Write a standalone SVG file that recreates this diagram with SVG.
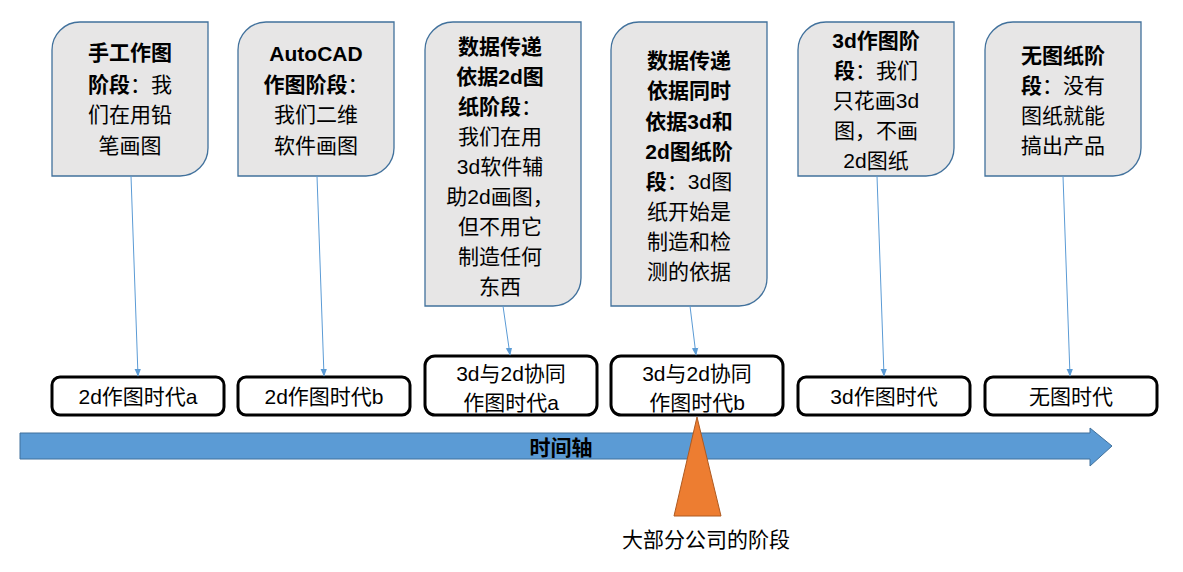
<svg xmlns="http://www.w3.org/2000/svg" width="1183" height="572" viewBox="0 0 1183 572">
<style>
.c{fill:#E7E6E6;stroke:#41719C;stroke-width:1.3}
.e{fill:#fff;stroke:#000;stroke-width:3}
text{font-family:"Liberation Sans","Noto Sans CJK SC",sans-serif;font-size:21px;fill:#000;text-anchor:middle;dominant-baseline:central}
.b{font-weight:bold}
.cn{stroke:#5B9BD5;stroke-width:1;fill:none;marker-end:url(#a)}
</style>
<defs><marker id="a" viewBox="0 0 10 10" refX="9" refY="5" markerWidth="8" markerHeight="8" orient="auto"><path d="M0,1 L10,5 L0,9z" fill="#5B9BD5"/></marker></defs>
<rect x="0" y="0" width="1183" height="572" fill="#fff"/>
<g id="axis"><path d="M20,433 H1090 V428 L1112,446 L1090,466 V459 H20z" fill="#5B9BD5" stroke="#41719C" stroke-width="1"/><text x="561" y="447" class="b">时间轴</text></g>
<g id="tri"><path d="M697,417 L721,516 L674,516z" fill="#ED7D31" stroke="#AE5A21" stroke-width="1"/><text x="706" y="539">大部分公司的阶段</text></g>
<g id="n1"><path class="c" d="M80,22 H208 V148 A28,28 0 0 1 180,176 H52 V50 A28,28 0 0 1 80,22z"/>
<text x="130" y="52" class="b">手工作图</text><text x="130" y="84"><tspan class="b">阶段</tspan>：我</text><text x="130" y="114">们在用铅</text><text x="130" y="145">笔画图</text></g>
<g id="n2"><path class="c" d="M266,22 H394 V148 A28,28 0 0 1 366,176 H238 V50 A28,28 0 0 1 266,22z"/>
<text x="316" y="53" class="b">AutoCAD</text><text x="316" y="84"><tspan class="b">作图阶段</tspan>：</text><text x="316" y="114">我们二维</text><text x="316" y="145">软件画图</text></g>
<g id="n3"><path class="c" d="M453,22 H581 V278 A28,28 0 0 1 553,306 H425 V50 A28,28 0 0 1 453,22z"/>
<text x="500" y="46" class="b">数据传递</text><text x="500" y="76" class="b">依据2d图</text><text x="500" y="106"><tspan class="b">纸阶段</tspan>：</text><text x="500" y="136">我们在用</text><text x="500" y="166">3d软件辅</text><text x="500" y="196">助2d画图，</text><text x="500" y="226">但不用它</text><text x="500" y="256">制造任何</text><text x="500" y="286">东西</text></g>
<g id="n4"><path class="c" d="M639,22 H767 V278 A28,28 0 0 1 739,306 H611 V50 A28,28 0 0 1 639,22z"/>
<text x="689" y="60" class="b">数据传递</text><text x="689" y="90" class="b">依据同时</text><text x="689" y="121" class="b">依据3d和</text><text x="689" y="151" class="b">2d图纸阶</text><text x="689" y="181"><tspan class="b">段</tspan>：3d图</text><text x="689" y="211">纸开始是</text><text x="689" y="241">制造和检</text><text x="689" y="271">测的依据</text></g>
<g id="n5"><path class="c" d="M826,22 H954 V148 A28,28 0 0 1 926,176 H798 V50 A28,28 0 0 1 826,22z"/>
<text x="876" y="40" class="b">3d作图阶</text><text x="876" y="70"><tspan class="b">段</tspan>：我们</text><text x="876" y="100">只花画3d</text><text x="876" y="130">图，不画</text><text x="876" y="160">2d图纸</text></g>
<g id="n6"><path class="c" d="M1013,22 H1141 V148 A28,28 0 0 1 1113,176 H985 V50 A28,28 0 0 1 1013,22z"/>
<text x="1063" y="55" class="b">无图纸阶</text><text x="1063" y="85"><tspan class="b">段</tspan>：没有</text><text x="1063" y="115">图纸就能</text><text x="1063" y="145">搞出产品</text></g>
<g id="e1"><rect class="e" x="52" y="377" width="172" height="38" rx="8"/><text x="138" y="396">2d作图时代a</text></g>
<g id="e2"><rect class="e" x="238" y="377" width="172" height="38" rx="8"/><text x="324" y="396">2d作图时代b</text></g>
<g id="e3"><rect class="e" x="425" y="356" width="172" height="59" rx="10"/><text x="511" y="373">3d与2d协同</text><text x="511" y="402">作图时代a</text></g>
<g id="e4"><rect class="e" x="611" y="356" width="172" height="59" rx="10"/><text x="697" y="373">3d与2d协同</text><text x="697" y="402">作图时代b</text></g>
<g id="e5"><rect class="e" x="798" y="377" width="172" height="38" rx="8"/><text x="884" y="396">3d作图时代</text></g>
<g id="e6"><rect class="e" x="985" y="377" width="172" height="38" rx="8"/><text x="1071" y="396">无图时代</text></g>
<g id="connectors">
<path class="cn" d="M131,176 L138,376"/><path class="cn" d="M317,176 L324,376"/><path class="cn" d="M503,306 L510,355"/><path class="cn" d="M690,306 L696,355"/><path class="cn" d="M877,176 L884,376"/><path class="cn" d="M1063,176 L1070,376"/>
</g>
</svg>
